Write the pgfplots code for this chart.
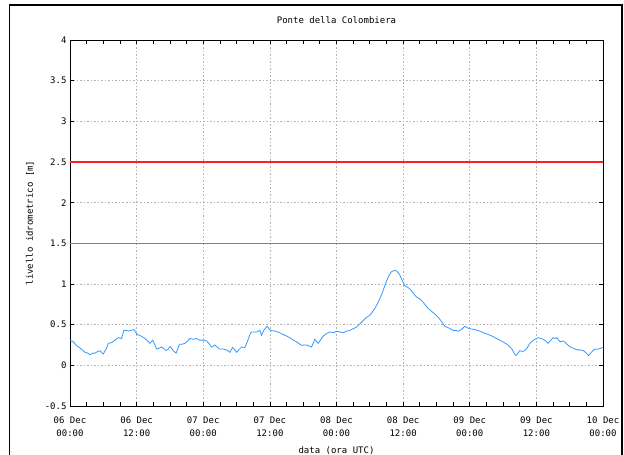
\documentclass[border=0pt]{standalone}
\usepackage{fontspec}
\setmainfont{DejaVu Sans Mono}
\usepackage{pgfplots}
\pgfplotsset{compat=1.18}

\definecolor{levelblue}{RGB}{51,153,255}
\definecolor{thresholdred}{RGB}{255,30,30}
\definecolor{thresholdgreen}{RGB}{30,200,30}

\begin{document}
\begin{tikzpicture}
\path[use as bounding box] (-70pt,-49pt) rectangle (554pt,406pt);
\begin{axis}[
  scale only axis,
  width=533pt, height=366pt,
  at={(0pt,0pt)}, anchor=south west,
  xmin=0, xmax=96, ymin=-0.5, ymax=4,
  xtick={0,12,24,36,48,60,72,84,96},
  xticklabels={06 Dec\\00:00,06 Dec\\12:00,07 Dec\\00:00,07 Dec\\12:00,08 Dec\\00:00,08 Dec\\12:00,09 Dec\\00:00,09 Dec\\12:00,10 Dec\\00:00},
  minor x tick num=3,
  ytick={-0.5,0,0.5,1,1.5,2,2.5,3,3.5,4},
  yticklabels={-0.5,0,0.5,1,1.5,2,2.5,3,3.5,4},
  tick align=inside,
  major tick length=4pt, minor tick length=4pt,
  tick style={black, line width=0.7pt},
  axis line style={black, line width=0.9pt},
  grid=major,
  major grid style={gray!60, line width=0.7pt, dash pattern=on 1.5pt off 2pt},
  font=\fontsize{9}{13}\selectfont,
  xticklabel style={align=center, font=\fontsize{9}{13}\selectfont, yshift=-7pt},
  yticklabel style={font=\fontsize{9}{13}\selectfont},
  title={Ponte della Colombiera},
  title style={at={(axis description cs:0.5,1)}, anchor=center, yshift=14pt},
  xlabel={data (ora UTC)},
  xlabel style={at={(axis description cs:0.5,0)}, anchor=center, yshift=-45pt},
  ylabel={livello idrometrico [m]},
  ylabel style={at={(axis description cs:-0.075,0.5)}, anchor=center},
  clip=true,
]
% alert threshold
\addplot[draw=thresholdgreen, line width=1.4pt] coordinates {(0,1.5) (96,1.5)};
% alarm threshold
\addplot[draw=thresholdred, line width=1.1pt] coordinates {(0,2.5) (96,2.5)};
% measured water level (hours from 06 Dec 00:00 UTC)
\addplot[draw=levelblue, line width=0.8pt] table {
0 0.31
0.6 0.29
1.2 0.24
1.7 0.22
2.2 0.19
2.7 0.16
3.2 0.15
3.6 0.13
4.1 0.15
4.5 0.15
5.0 0.17
5.4 0.18
5.8 0.15
6.0 0.14
6.5 0.20
6.9 0.27
7.5 0.28
8.1 0.31
8.7 0.34
9.3 0.33
9.7 0.43
10.1 0.43
10.5 0.42
11.0 0.43
11.5 0.44
12.1 0.38
12.8 0.36
13.5 0.33
14.0 0.30
14.4 0.27
14.9 0.31
15.3 0.25
15.6 0.20
16.0 0.21
16.5 0.225
17.0 0.20
17.3 0.18
17.7 0.20
18.0 0.23
18.3 0.21
18.6 0.18
19.1 0.15
19.4 0.20
19.7 0.26
20.2 0.26
20.7 0.27
21.2 0.30
21.6 0.33
22.2 0.32
22.8 0.33
23.3 0.31
23.7 0.31
24.2 0.31
24.6 0.30
25.0 0.27
25.5 0.225
26.1 0.25
26.6 0.22
27.0 0.20
27.6 0.20
28.2 0.19
28.8 0.16
29.3 0.22
29.7 0.19
30.0 0.16
30.4 0.19
30.9 0.225
31.5 0.22
32.0 0.30
32.4 0.38
32.7 0.41
33.1 0.41
33.6 0.41
34.2 0.43
34.5 0.37
34.9 0.43
35.5 0.48
36.1 0.43
37.0 0.42
37.8 0.40
38.7 0.37
39.6 0.34
40.2 0.31
40.8 0.29
41.2 0.27
41.7 0.245
42.2 0.25
42.6 0.25
43.0 0.24
43.5 0.225
44.1 0.32
44.7 0.27
45.1 0.31
45.6 0.36
46.2 0.39
46.8 0.41
47.5 0.40
48.0 0.42
48.6 0.41
49.2 0.40
49.8 0.42
50.4 0.43
51.0 0.45
51.6 0.47
52.2 0.51
52.8 0.55
53.4 0.59
54.0 0.615
54.5 0.66
54.9 0.70
55.4 0.76
55.8 0.82
56.3 0.90
56.7 0.98
57.1 1.05
57.5 1.11
57.9 1.15
58.2 1.16
58.5 1.17
58.8 1.16
59.1 1.14
59.4 1.11
59.8 1.05
60.3 0.98
60.8 0.96
61.2 0.94
61.8 0.89
62.4 0.84
62.9 0.82
63.3 0.80
63.9 0.75
64.5 0.70
65.2 0.66
66.0 0.615
66.8 0.55
67.5 0.48
68.2 0.46
69.0 0.43
69.5 0.43
69.9 0.42
70.5 0.44
71.1 0.48
71.6 0.46
72.0 0.45
72.9 0.44
73.8 0.42
74.5 0.40
75.3 0.38
76.0 0.36
76.8 0.33
77.7 0.30
78.7 0.26
79.2 0.23
79.6 0.20
80.0 0.15
80.3 0.12
80.7 0.15
81.0 0.18
81.5 0.17
81.9 0.18
82.4 0.22
82.8 0.27
83.5 0.31
84.3 0.34
84.8 0.33
85.2 0.32
85.7 0.30
86.1 0.27
86.6 0.31
87.0 0.34
87.4 0.33
87.7 0.34
88.0 0.31
88.3 0.29
88.9 0.30
89.5 0.26
90.1 0.225
90.7 0.21
91.3 0.19
91.9 0.19
92.5 0.18
93.0 0.15
93.4 0.12
93.9 0.16
94.3 0.19
94.8 0.20
95.2 0.20
96.0 0.22
};
\end{axis}
% outer frame of the panel
\draw[black, line width=1.8pt] (-60.5pt,-49pt) -- (-60.5pt,401pt) -- (552pt,401pt) -- (552pt,-49pt);
\end{tikzpicture}
\end{document}
